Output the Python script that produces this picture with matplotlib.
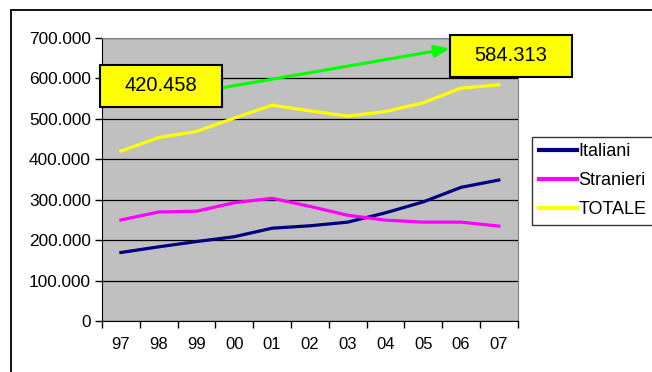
import matplotlib.pyplot as plt
from matplotlib.patches import Rectangle
from matplotlib.lines import Line2D
import numpy as np

plt.rcParams['font.family'] = ['Liberation Sans', 'DejaVu Sans']

anni = ["97", "98", "99", "00", "01", "02", "03", "04", "05", "06", "07"]
italiani = [170000, 184000, 197000, 209000, 230000, 236000, 245000, 268000, 295000, 331000, 349000]
stranieri = [250458, 270000, 272000, 293000, 304000, 284000, 262000, 250000, 245000, 245000, 235313]
totale = [420458, 454000, 469000, 502000, 534000, 520000, 507000, 518000, 540000, 576000, 584313]

W, H = 652, 372
fig = plt.figure(figsize=(W / 100, H / 100), dpi=100)

# outer chart frame (runs off the right and bottom edges)
fig.add_artist(Line2D([11 / W, 1.0], [1 - 10 / H, 1 - 10 / H], color='black', lw=1.3))
fig.add_artist(Line2D([11 / W, 11 / W], [0.0, 1 - 10 / H], color='black', lw=1.3))

ax = fig.add_axes([102 / W, 1 - 321.3 / H, (517.7 - 102) / W, (321.3 - 38) / H])
ax.set_facecolor('#C0C0C0')

x = np.arange(len(anni))
l1, = ax.plot(x, italiani, color='#000080', lw=2.3)
l2, = ax.plot(x, stranieri, color='#FF00FF', lw=2.3)
l3, = ax.plot(x, totale, color='#FFFF00', lw=2.3)

ax.set_xlim(-0.5, len(anni) - 0.5)
ax.set_ylim(0, 700000)
ax.set_yticks(np.arange(0, 700001, 100000))
ax.set_yticklabels(["0"] + [f"{v // 1000}.000" for v in range(100000, 700001, 100000)])
ax.set_xticks(x)
ax.set_xticklabels(anni)
ax.set_xticks(np.arange(-0.5, len(anni)), minor=True)
ax.tick_params(axis='x', which='major', length=0, pad=11, labelsize=12)
ax.tick_params(axis='x', which='minor', length=5, width=1, direction='out')
ax.tick_params(axis='y', length=5, width=1, direction='out', pad=3, labelsize=12.4)
ax.grid(axis='y', color='black', lw=0.9)
ax.set_axisbelow(True)
for s in ['top', 'right']:
    ax.spines[s].set_color('#808080')
for s in ['left', 'bottom']:
    ax.spines[s].set_color('black')

# arrow from first total to last total
ax.annotate('', xy=(450 / W, 1 - 48.5 / H), xytext=(221 / W, 1 - 88 / H),
            xycoords='figure fraction', textcoords='figure fraction',
            arrowprops=dict(arrowstyle='-|>,head_length=0.9,head_width=0.35',
                            color='#00FF00', lw=2.2, shrinkA=0, shrinkB=0))

for (x0, y0, x1, y1), val in [((100, 65, 221.7, 106.7), totale[0]),
                              ((450, 35, 572.3, 76.7), totale[-1])]:
    fig.add_artist(Rectangle((x0 / W, 1 - y1 / H), (x1 - x0) / W, (y1 - y0) / H,
                             facecolor='#FFFF00', edgecolor='black', lw=1.5,
                             transform=fig.transFigure))
    txt = f"{val // 1000}.{val % 1000:03d}"
    fig.text((x0 + x1) / 2 / W, 1 - (y0 + y1) / 2 / H, txt, ha='center', va='center',
             fontsize=14.5)

leg = fig.legend([l1, l2, l3], ['Italiani', 'Stranieri', 'TOTALE'],
                 loc='upper left', bbox_to_anchor=(532.3 / W, 1 - 136.7 / H),
                 frameon=True, fancybox=False, edgecolor='black', fontsize=13,
                 handlelength=2.1, handletextpad=0.1, borderpad=0.36,
                 labelspacing=0.66, borderaxespad=0)
leg.get_frame().set_linewidth(1.0)
for h in leg.legend_handles:
    h.set_linewidth(3)

fig.savefig('out.png', dpi=100)
